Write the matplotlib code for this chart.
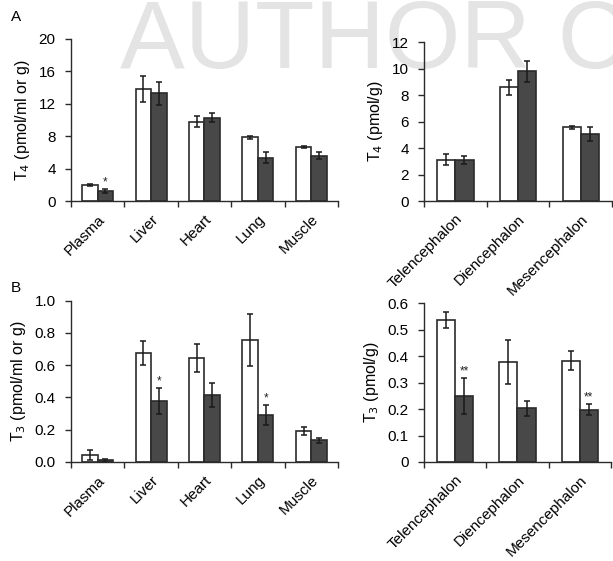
import numpy as np
from matplotlib import pyplot as plt

plt.rcParams['font.family'] = ['Liberation Sans', 'DejaVu Sans']

# peripheral tissues
tissues = ['Plasma', 'Liver', 'Heart', 'Lung', 'Muscle']
t4_tissue_ctrl = [2.0, 13.8, 9.8, 7.85, 6.7]
t4_tissue_ctrl_err = [0.15, 1.6, 0.7, 0.2, 0.15]
t4_tissue_trt = [1.25, 13.3, 10.3, 5.35, 5.6]
t4_tissue_trt_err = [0.25, 1.4, 0.6, 0.7, 0.45]
t4_tissue_sig = ['*', '', '', '', '']

t3_tissue_ctrl = [0.045, 0.676, 0.647, 0.756, 0.193]
t3_tissue_ctrl_err = [0.03, 0.076, 0.087, 0.16, 0.025]
t3_tissue_trt = [0.01, 0.38, 0.415, 0.292, 0.135]
t3_tissue_trt_err = [0.01, 0.08, 0.075, 0.062, 0.015]
t3_tissue_sig = ['', '*', '', '*', '']

# brain regions
regions = ['Telencephalon', 'Diencephalon', 'Mesencephalon']
t4_brain_ctrl = [3.13, 8.57, 5.55]
t4_brain_ctrl_err = [0.4, 0.58, 0.1]
t4_brain_trt = [3.1, 9.78, 5.07]
t4_brain_trt_err = [0.28, 0.76, 0.55]
t4_brain_sig = ['', '', '']

t3_brain_ctrl = [0.537, 0.378, 0.383]
t3_brain_ctrl_err = [0.031, 0.084, 0.037]
t3_brain_trt = [0.249, 0.203, 0.198]
t3_brain_trt_err = [0.068, 0.028, 0.022]
t3_brain_sig = ['**', '', '**']

EDGE = '#2b2b2b'
DARK = '#484848'


def bar_panel(ax, cats, ctrl, ctrl_err, trt, trt_err, sig, ylim, yticks, ylabel, fmt):
    n = len(cats)
    centers = np.arange(n) + 0.5
    w = 0.29
    err_kw = dict(ecolor='#1a1a1a', elinewidth=1.1, capsize=2.5, capthick=1.1)
    ax.bar(centers - w / 2, ctrl, w, yerr=ctrl_err, color='white', edgecolor=EDGE,
           linewidth=1.2, error_kw=err_kw, zorder=2)
    ax.bar(centers + w / 2, trt, w, yerr=trt_err, color=DARK, edgecolor=EDGE,
           linewidth=1.2, error_kw=err_kw, zorder=2)
    for c, v, e, s in zip(centers, trt, trt_err, sig):
        if s:
            ax.annotate(s, (c + w / 2, v + e), xytext=(0, 0.5), textcoords='offset points',
                        ha='center', va='bottom', fontsize=8.5, color='#222222')

    ax.set_xlim(0, n)
    ax.set_ylim(*ylim)
    ax.set_yticks(yticks)
    ax.set_yticklabels([fmt.format(t) for t in yticks])
    ax.set_xticks(np.arange(n + 1))
    ax.set_xticklabels([])
    ax.set_xticks(centers, minor=True)
    ax.set_xticklabels(cats, minor=True, rotation=45, ha='right', rotation_mode='anchor',
                       fontsize=11)
    ax.tick_params(axis='x', which='minor', length=0, pad=8)
    ax.tick_params(axis='x', which='major', length=4, width=1, color=EDGE)
    ax.tick_params(axis='y', length=4, width=1, color=EDGE, labelsize=11, pad=7)
    ax.set_ylabel(ylabel, fontsize=11.5, labelpad=5)
    for side in ['top', 'right']:
        ax.spines[side].set_visible(False)
    for side in ['left', 'bottom']:
        ax.spines[side].set_color(EDGE)
        ax.spines[side].set_linewidth(1)
    ax.patch.set_visible(False)


fig = plt.figure(figsize=(6.13, 5.61), dpi=100)

# watermark behind the panels
fig.text(120 / 613, 1 - 68 / 561, 'AUTHOR COPY', fontsize=70, color='#e4e4e4',
         ha='left', va='baseline', zorder=-1)

ax_tl = fig.add_axes([0.1158, 0.6417, 0.4356, 0.2888])
ax_tr = fig.add_axes([0.6917, 0.6417, 0.3067, 0.2834])
ax_bl = fig.add_axes([0.1158, 0.1765, 0.4356, 0.2875])
ax_br = fig.add_axes([0.6917, 0.1765, 0.3050, 0.2829])

bar_panel(ax_tl, tissues, t4_tissue_ctrl, t4_tissue_ctrl_err, t4_tissue_trt, t4_tissue_trt_err,
          t4_tissue_sig, (0, 20), [0, 4, 8, 12, 16, 20], 'T$_4$ (pmol/ml or g)', '{:g}')
bar_panel(ax_tr, regions, t4_brain_ctrl, t4_brain_ctrl_err, t4_brain_trt, t4_brain_trt_err,
          t4_brain_sig, (0, 12), [0, 2, 4, 6, 8, 10, 12], 'T$_4$ (pmol/g)', '{:g}')
bar_panel(ax_bl, tissues, t3_tissue_ctrl, t3_tissue_ctrl_err, t3_tissue_trt, t3_tissue_trt_err,
          t3_tissue_sig, (0, 1.0), [0, 0.2, 0.4, 0.6, 0.8, 1.0], 'T$_3$ (pmol/ml or g)', '{:.1f}')
bar_panel(ax_br, regions, t3_brain_ctrl, t3_brain_ctrl_err, t3_brain_trt, t3_brain_trt_err,
          t3_brain_sig, (0, 0.6), [0, 0.1, 0.2, 0.3, 0.4, 0.5, 0.6], 'T$_3$ (pmol/g)', '{:g}')

fig.text(16 / 613, 1 - 17 / 561, 'A', fontsize=11, ha='center', va='center')
fig.text(16 / 613, 1 - 288 / 561, 'B', fontsize=11, ha='center', va='center')

fig.savefig('out.png', dpi=100)
